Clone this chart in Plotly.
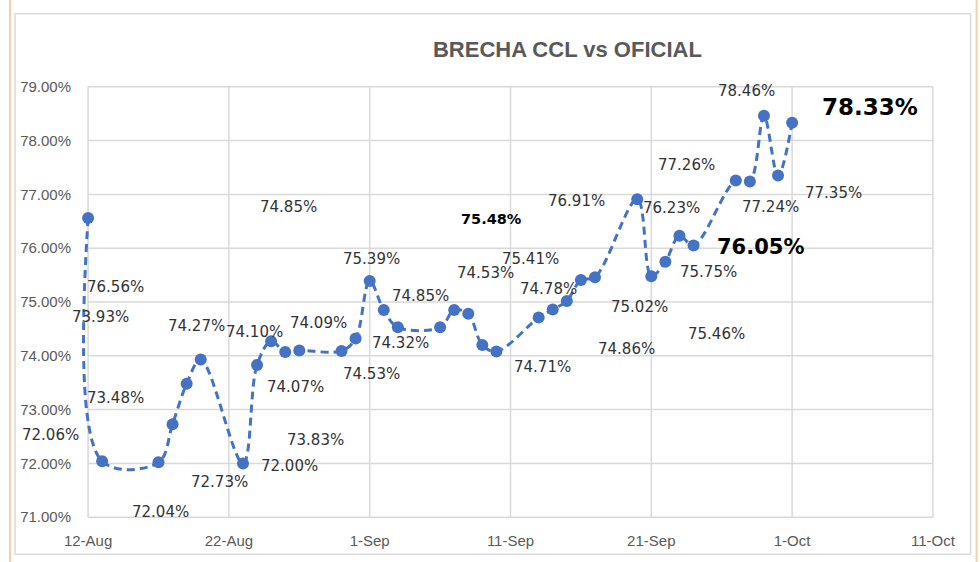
import pandas as pd
import plotly.graph_objects as go

# ---- data ----
dates = ["2021-08-12", "2021-08-13", "2021-08-17", "2021-08-18", "2021-08-19", "2021-08-20",
         "2021-08-23", "2021-08-24", "2021-08-25", "2021-08-26", "2021-08-27", "2021-08-30",
         "2021-08-31", "2021-09-01", "2021-09-02", "2021-09-03", "2021-09-06", "2021-09-07",
         "2021-09-08", "2021-09-09", "2021-09-10", "2021-09-13", "2021-09-14", "2021-09-15",
         "2021-09-16", "2021-09-17", "2021-09-20", "2021-09-21", "2021-09-22", "2021-09-23",
         "2021-09-24", "2021-09-27", "2021-09-28", "2021-09-29", "2021-09-30", "2021-10-01"]
brecha = [76.56, 72.04, 72.02, 72.73, 73.48, 73.93,
          72.00, 73.83, 74.27, 74.07, 74.10, 74.09,
          74.32, 75.39, 74.85, 74.53, 74.53, 74.85,
          74.78, 74.20, 74.08, 74.71, 74.86, 75.02,
          75.41, 75.46, 76.91, 75.48, 75.75, 76.23,
          76.05, 77.26, 77.24, 78.46, 77.35, 78.33]

tick_dates = ["2021-08-12", "2021-08-22", "2021-09-01", "2021-09-11", "2021-09-21", "2021-10-01", "2021-10-11"]
tick_labels = ["12-Aug", "22-Aug", "1-Sep", "11-Sep", "21-Sep", "1-Oct", "11-Oct"]
y_ticks = [71, 72, 73, 74, 75, 76, 77, 78, 79]
y_tick_labels = ["71.00%", "72.00%", "73.00%", "74.00%", "75.00%", "76.00%", "77.00%", "78.00%", "79.00%"]

# data labels as drawn (Excel labels displaced from their points)
label_texts = ["74.85%", "76.56%", "73.93%", "73.48%", "72.04%", "72.73%", "72.00%", "74.27%",
               "74.10%", "74.07%", "73.83%", "74.09%", "75.39%", "74.85%", "74.32%", "74.53%",
               "74.53%", "75.48%", "75.41%", "74.78%", "74.71%", "76.91%", "74.86%", "78.46%",
               "78.33%", "77.26%", "76.23%", "77.24%", "77.35%", "76.05%", "75.75%", "75.02%",
               "75.46%"]
# layout positions of labels (days after 12-Aug, value level)
label_days = [14.2, 1.92, 0.85, 1.92, 5.11, 9.33, 14.3, 7.72,
              11.79, 14.7, 16.12, 16.34, 20.15, 23.58, 22.16, 20.15,
              28.25, 28.67, 31.44, 32.69, 32.29, 34.66, 38.21, 46.73,
              55.54, 42.47, 41.46, 48.44, 52.93, 47.73, 44.06, 39.16,
              44.6]
label_levels = [76.77, 75.28, 74.73, 73.21, 71.10, 71.66, 71.95, 74.55,
                74.44, 73.42, 72.43, 74.61, 75.80, 75.12, 74.23, 73.67,
                75.53, 76.54, 75.79, 75.24, 73.80, 76.87, 74.12, 78.93,
                78.63, 77.54, 76.74, 76.77, 77.03, 76.03, 75.56, 74.91,
                74.40]
label_bold = {"75.48%": 14.5, "78.33%": 23, "76.05%": 21}

blue = "#4472C4"
grid = "#d9d9d9"
tickfont = dict(family="Liberation Sans", size=15, color="#595959")

x_lo = pd.Timestamp(tick_dates[0]) - pd.Timedelta(days=1)
x_hi = pd.Timestamp(tick_dates[-1]) + pd.Timedelta(days=1)
y_lo, y_hi = y_ticks[0] - 0.2, y_ticks[-1] + 0.2

fig = go.Figure()
fig.add_trace(go.Scatter(
    x=pd.to_datetime(dates), y=brecha, mode="lines+markers",
    line=dict(color=blue, width=3, dash="8px,5px", shape="spline", smoothing=1.0),
    marker=dict(color=blue, size=12),
    hoverinfo="skip", showlegend=False,
))

base = pd.Timestamp(tick_dates[0])
annotations = []
for t, d, v in zip(label_texts, label_days, label_levels):
    bold = t in label_bold
    size = label_bold.get(t, 15)
    annotations.append(dict(
        x=base + pd.Timedelta(days=d), y=v, xref="x", yref="y", text=f"<b>{t}</b>" if bold else t,
        showarrow=False, xanchor="center", yanchor="middle",
        font=dict(family="DejaVu Sans", size=size, color="#000000" if bold else "#333333"),
    ))
# label that sits left of the plot area
annotations.append(dict(
    x=0, y=72.53, xref="paper", yref="y", text="72.06%", showarrow=False,
    xanchor="center", yanchor="middle", xshift=-24,
    font=dict(family="DejaVu Sans", size=15, color="#333333"),
))

shapes = []
# grid box drawn from the tick lists
for td in tick_dates:
    shapes.append(dict(type="line", xref="x", yref="y", x0=td, x1=td, y0=y_ticks[0], y1=y_ticks[-1],
                       line=dict(color=grid, width=1.5), layer="below"))
for yv in y_ticks:
    shapes.append(dict(type="line", xref="x", yref="y", x0=tick_dates[0], x1=tick_dates[-1], y0=yv, y1=yv,
                       line=dict(color=grid, width=1.5), layer="below"))
# chart frame and sheet edge lines
shapes += [
    dict(type="rect", xref="paper", yref="paper", x0=-0.0675, x1=1.0270, y0=-0.0581, y1=1.1379,
         line=dict(color="#d9d9d9", width=1.5), layer="below"),
    dict(type="line", xref="paper", yref="paper", x0=-0.0732, x1=-0.0732, y0=-0.08, y1=1.2,
         line=dict(color="#F8CBAD", width=2)),
    dict(type="line", xref="paper", yref="paper", x0=1.0339, x1=1.0339, y0=-0.08, y1=1.2,
         line=dict(color="#F8CBAD", width=2)),
]

fig.update_layout(
    width=980, height=562,
    margin=dict(l=74, r=33, t=76, b=34),
    paper_bgcolor="white", plot_bgcolor="white",
    title=dict(text="<b>BRECHA CCL vs OFICIAL</b>", x=0.579, xanchor="center", y=0.913, yanchor="middle",
               font=dict(family="Liberation Sans", size=22, color="#595959")),
    annotations=annotations,
    shapes=shapes,
    hovermode=False,
)
fig.update_xaxes(
    type="date", range=[x_lo, x_hi],
    tickvals=pd.to_datetime(tick_dates), ticktext=tick_labels,
    showgrid=False, showline=False, zeroline=False,
    ticks="", tickfont=tickfont, ticklabelstandoff=2,
)
fig.update_yaxes(
    range=[y_lo, y_hi], tickvals=y_ticks, ticktext=y_tick_labels,
    showgrid=False, showline=False, zeroline=False,
    ticks="", tickfont=tickfont, ticklabelstandoff=2,
)

fig.write_html("out.html")
